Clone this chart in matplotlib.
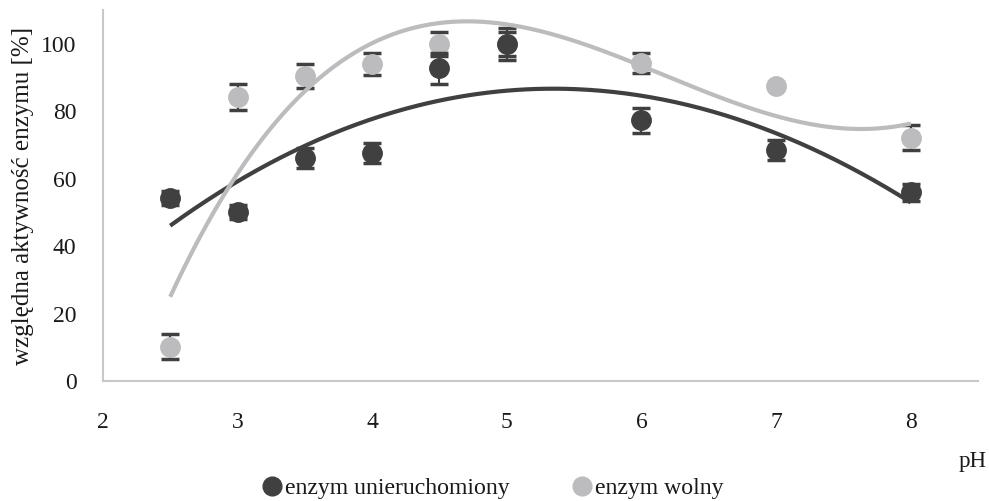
import numpy as np
import matplotlib
matplotlib.use("Agg")
import matplotlib.pyplot as plt

plt.rcParams['font.family'] = ['Liberation Serif', 'DejaVu Serif']

ph = [2.5, 3, 3.5, 4, 4.5, 5, 6, 7, 8]

immob_vals = [54.3, 50.1, 66.2, 67.7, 92.8, 100.0, 77.3, 68.5, 56.0]
immob_err = [2.0, 2.0, 3.0, 3.0, 4.6, 4.7, 3.7, 3.0, 2.5]

free_vals = [10.2, 84.2, 90.5, 94.0, 100.0, 100.0, 94.3, 87.4, 72.2]
free_err = [3.6, 3.9, 3.5, 3.2, 3.5, 3.5, 3.1, 0.5, 3.7]

labels = ["enzym unieruchomiony", "enzym wolny"]
x_ticks = [2, 3, 4, 5, 6, 7, 8]
y_ticks = [0, 20, 40, 60, 80, 100]

dark = "#404040"
light = "#bcbcbe"
axis_col = "#c8c8c8"
text_col = "#1a1a1a"

fig = plt.figure(figsize=(9.89, 5.01), dpi=100)
ax = fig.add_axes([0.104, 0.2395, 0.885, 0.7405])

xs = np.linspace(min(ph), max(ph), 300)

# polynomial trend lines (order 3)
free_fit = np.polyval(np.polyfit(ph, free_vals, 3), xs)
immob_fit = np.polyval(np.polyfit(ph, immob_vals, 3), xs)

ax.errorbar(ph, free_vals, yerr=free_err, fmt='o', color=light, ms=14,
            ecolor=dark, elinewidth=1.5, capsize=6.5, capthick=2.5,
            label=labels[1], zorder=3)
ax.errorbar(ph, immob_vals, yerr=immob_err, fmt='o', color=dark, ms=14,
            ecolor=dark, elinewidth=1.5, capsize=6.5, capthick=2.5,
            label=labels[0], zorder=4)
ax.plot(xs, immob_fit, color=dark, lw=3, zorder=5, solid_capstyle='butt')
ax.plot(xs, free_fit, color=light, lw=3, zorder=6, solid_capstyle='butt')

ax.set_xlim(2, 8.5)
ax.set_ylim(0, 110)
ax.set_xticks(x_ticks)
ax.set_yticks(y_ticks)
ax.tick_params(length=0, labelsize=17, colors=text_col)
ax.tick_params(axis='x', pad=22)
ax.tick_params(axis='y', pad=19)
for s in ['top', 'right']:
    ax.spines[s].set_visible(False)
for s in ['left', 'bottom']:
    ax.spines[s].set_color(axis_col)
    ax.spines[s].set_linewidth(1.5)

ax.set_ylabel("względna aktywność enzymu [%]", fontsize=18, color=text_col)
ax.yaxis.set_label_coords(-0.079, 0.5)

fig.text(0.998, 1 - 462 / 501, "pH", fontsize=16.5, ha='right', va='center',
         color=text_col)

handles = [plt.Line2D([], [], marker='o', ls='', color=dark, ms=13.5),
           plt.Line2D([], [], marker='o', ls='', color=light, ms=13.5)]
fig.legend(handles, labels, loc='center', bbox_to_anchor=(0.497, 1 - 488 / 501),
           ncol=2, frameon=False, fontsize=17.1, handletextpad=0.0,
           columnspacing=2.5, handlelength=1.1, labelcolor=text_col)

fig.savefig("out.png", dpi=100)
